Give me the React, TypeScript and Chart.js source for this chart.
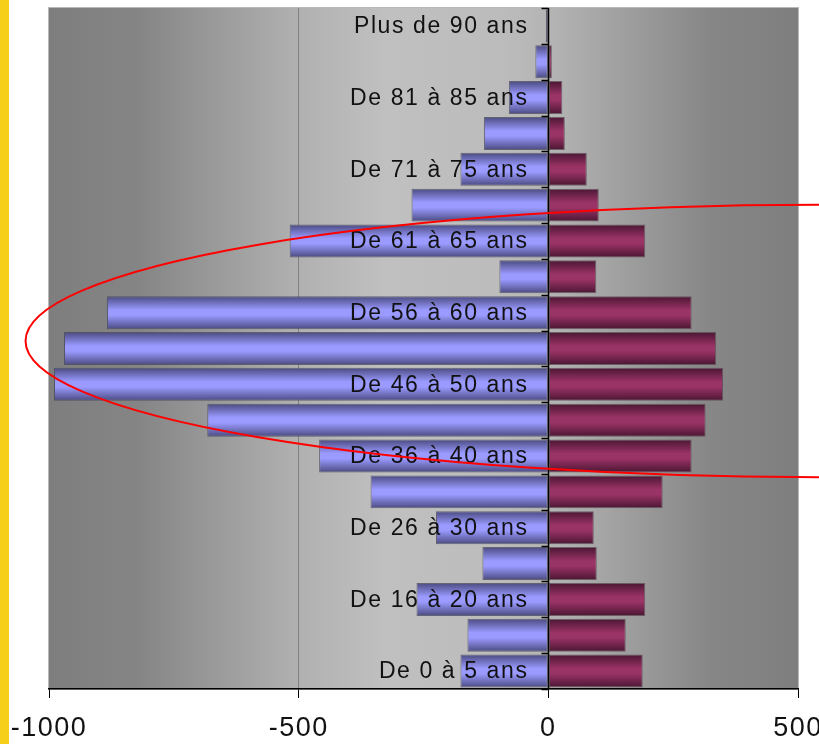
import React, { useEffect, useRef } from "react";
import { Chart, registerables } from "chart.js";

Chart.register(...registerables);

// ---- Data ----
const categories = [
  "De 0 à 5 ans",
  "De 6 à 15 ans",
  "De 16 à 20 ans",
  "De 21 à 25 ans",
  "De 26 à 30 ans",
  "De 31 à 35 ans",
  "De 36 à 40 ans",
  "De 41 à 45 ans",
  "De 46 à 50 ans",
  "De 51 à 55 ans",
  "De 56 à 60 ans",
  "60 ans",
  "De 61 à 65 ans",
  "De 66 à 70 ans",
  "De 71 à 75 ans",
  "De 76 à 80 ans",
  "De 81 à 85 ans",
  "De 86 à 90 ans",
  "Plus de 90 ans",
];

const hommes = [-176, -162, -264, -132, -225, -356, -459, -683, -990, -970, -884, -98, -518, -274, -176, -129, -79, -26, -5];
const femmes = [189, 155, 194, 97, 91, 229, 287, 315, 350, 336, 287, 96, 194, 101, 77, 33, 28, 7, 1];

const xTicks = [-1000, -500, 0, 500];
const labelEvery = 2;

// ellipse overlay in data units (x value, category index)
const ellipseCenter = { x: 545, y: 9.21 };
const ellipseRadius = { x: 1592, y: 3.8 };

const FONT = "'Liberation Sans', Arial, Helvetica, sans-serif";
const BAR_PCT = 0.92;

function barGradient(ctx: any, dark: string, light: string) {
  if (ctx.type !== "data") return light;
  const chart = ctx.chart;
  const y = chart.scales && chart.scales.y;
  if (!y) return light;
  const c = y.getPixelForValue(ctx.dataIndex);
  const band = Math.abs(y.getPixelForValue(1) - y.getPixelForValue(0));
  if (!isFinite(c) || !isFinite(band) || band <= 0) return light;
  const h = (band * BAR_PCT) / 2;
  const g = chart.ctx.createLinearGradient(0, c - h, 0, c + h);
  g.addColorStop(0, dark);
  g.addColorStop(0.42, light);
  g.addColorStop(0.58, light);
  g.addColorStop(1, dark);
  return g;
}

const backgroundPlugin = {
  id: "bg",
  beforeDraw(chart: any) {
    const { ctx, chartArea: a, width, height } = chart;
    ctx.save();
    ctx.fillStyle = "#ffffff";
    ctx.fillRect(0, 0, width, height);
    ctx.fillStyle = "#f6cf1a";
    ctx.fillRect(0, 0, 9, height);
    const g = ctx.createLinearGradient(a.left, 0, a.right, 0);
    g.addColorStop(0, "#7e7e7e");
    g.addColorStop(0.12, "#858585");
    g.addColorStop(0.33, "#b0b0b0");
    g.addColorStop(0.45, "#c0c0c0");
    g.addColorStop(0.6, "#bcbcbc");
    g.addColorStop(0.67, "#b4b4b4");
    g.addColorStop(0.88, "#878787");
    g.addColorStop(1, "#7e7e7e");
    ctx.fillStyle = g;
    ctx.fillRect(a.left, a.top, a.right - a.left, a.bottom - a.top);
    ctx.strokeStyle = "#b8b8b8";
    ctx.lineWidth = 1;
    ctx.strokeRect(a.left - 0.5, a.top - 0.5, a.right - a.left + 1, a.bottom - a.top + 1);
    ctx.restore();
    ctx.letterSpacing = "1.5px";
  },
  afterDatasetsDraw(chart: any) {
    const { ctx, chartArea: a } = chart;
    const xs = chart.scales.x;
    const ys = chart.scales.y;
    const x0 = Math.round(xs.getPixelForValue(0)) + 0.5;
    ctx.save();
    ctx.letterSpacing = "0px";
    // zero axis line
    ctx.strokeStyle = "#000";
    ctx.lineWidth = 1.5;
    ctx.beginPath();
    ctx.moveTo(x0, a.top);
    ctx.lineTo(x0, a.bottom);
    ctx.stroke();
    // tick marks at category boundaries
    for (let i = 0; i <= categories.length; i++) {
      const yy = Math.round(ys.getPixelForValue(i - 0.5)) + 0.5;
      ctx.beginPath();
      ctx.moveTo(x0 - 7, yy);
      ctx.lineTo(x0, yy);
      ctx.stroke();
    }
    // category labels
    ctx.letterSpacing = "1.6px";
    ctx.font = `23px ${FONT}`;
    ctx.fillStyle = "#111";
    ctx.textAlign = "right";
    ctx.textBaseline = "middle";
    categories.forEach((c, i) => {
      if (i % labelEvery !== 0) return;
      ctx.fillText(c, x0 - 20, ys.getPixelForValue(i) + 1);
    });
    ctx.restore();
  },
  afterDraw(chart: any) {
    const { ctx } = chart;
    const xs = chart.scales.x;
    const ys = chart.scales.y;
    const cx = xs.getPixelForValue(ellipseCenter.x);
    const cy = ys.getPixelForValue(ellipseCenter.y);
    const rx = Math.abs(xs.getPixelForValue(ellipseCenter.x + ellipseRadius.x) - cx);
    const ry = Math.abs(ys.getPixelForValue(ellipseCenter.y + ellipseRadius.y) - cy);
    ctx.save();
    ctx.strokeStyle = "#ff0000";
    ctx.lineWidth = 2;
    ctx.beginPath();
    ctx.ellipse(cx, cy, rx, ry, 0, 0, Math.PI * 2);
    ctx.stroke();
    ctx.restore();
    ctx.letterSpacing = "0px";
  },
};

export default function App() {
  const ref = useRef<HTMLCanvasElement | null>(null);
  useEffect(() => {
    if (!ref.current) return;
    const chart = new Chart(ref.current, {
      type: "bar",
      data: {
        labels: categories,
        datasets: [
          {
            label: "Hommes",
            data: hommes,
            backgroundColor: (c: any) => barGradient(c, "#4a4a80", "#9a9aff"),
            borderColor: "rgba(70,70,90,0.75)",
            borderWidth: 1,
            borderSkipped: false,
            barPercentage: BAR_PCT,
            categoryPercentage: 1,
          },
          {
            label: "Femmes",
            data: femmes,
            backgroundColor: (c: any) => barGradient(c, "#4a1632", "#9a3366"),
            borderColor: "rgba(90,70,80,0.75)",
            borderWidth: 1,
            borderSkipped: false,
            barPercentage: BAR_PCT,
            categoryPercentage: 1,
          },
        ],
      },
      options: {
        indexAxis: "y",
        responsive: false,
        devicePixelRatio: 1,
        animation: false,
        layout: { padding: { left: 49, right: 21, top: 8, bottom: 0 } },
        plugins: { legend: { display: false }, tooltip: { enabled: false } },
        scales: {
          x: {
            type: "linear",
            min: -1000,
            max: 500,
            stacked: true,
            afterBuildTicks: (s: any) => {
              s.ticks = xTicks.map((v) => ({ value: v }));
            },
            ticks: {
              callback: (v: any) => String(v),
              font: { family: FONT, size: 27 },
              color: "#111",
              padding: 14,
              maxRotation: 0,
              autoSkip: false,
            },
            grid: {
              color: (c: any) => (c.tick && c.tick.value === -500 ? "#808080" : "rgba(0,0,0,0)"),
              tickColor: "#000",
              tickLength: 9,
              lineWidth: 1,
            },
            border: { color: "#000", width: 1.5 },
            afterFit: (s: any) => {
              s.height = 55;
              s.paddingLeft = 0;
              s.paddingRight = 0;
            },
          },
          y: {
            type: "category",
            reverse: true,
            stacked: true,
            display: false,
          },
        },
      },
      plugins: [backgroundPlugin],
    } as any);
    return () => chart.destroy();
  }, []);
  return (
    <div style={{ position: "absolute", left: 0, top: 0, width: 819, height: 744, overflow: "hidden", background: "#fff" }}>
      <canvas ref={ref} width={819} height={744} style={{ width: 819, height: 744, display: "block" }} />
    </div>
  );
}
